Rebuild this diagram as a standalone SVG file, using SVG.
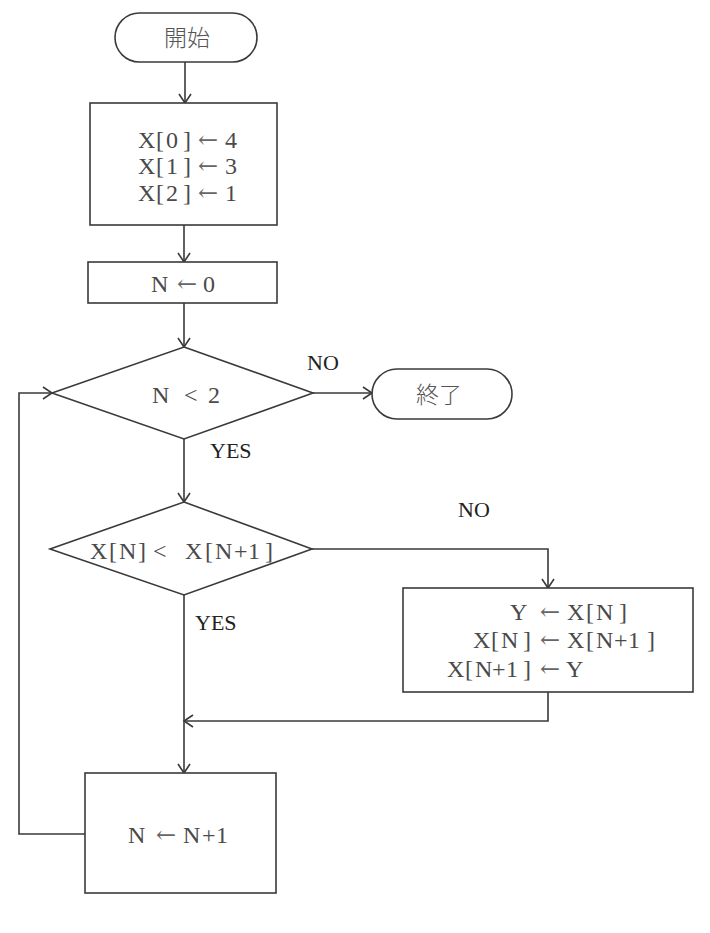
<svg xmlns="http://www.w3.org/2000/svg" width="710" height="933" viewBox="0 0 710 933">
<style>
.shape{fill:#fff;stroke:#3a3a3a;stroke-width:1.6}
.line{fill:none;stroke:#3a3a3a;stroke-width:1.6}
.t{font-family:"Liberation Serif","Times New Roman",serif;font-size:24px;fill:#4a4a4a}
.a{font-family:"DejaVu Serif",serif;font-size:24px;fill:#666}
.lbl{font-family:"Liberation Serif","Times New Roman",serif;font-size:22px;fill:#222}
.jp{font-family:"Noto Sans CJK JP","Noto Sans CJK SC",sans-serif;font-size:23px;fill:#555;font-weight:300}
</style>
<defs>
<marker id="arr" viewBox="-11 -8 13 16" refX="0" refY="0" markerWidth="13" markerHeight="16" markerUnits="userSpaceOnUse" orient="auto">
<path d="M-9,-6 L0,0 L-9,6" fill="none" stroke="#3a3a3a" stroke-width="1.6"/>
</marker>
</defs>
<rect width="710" height="933" fill="#fff"/>
<g id="connectors">
<path class="line" d="M185,62 V103" marker-end="url(#arr)"/>
<path class="line" d="M184,225 V262" marker-end="url(#arr)"/>
<path class="line" d="M184,303 V347" marker-end="url(#arr)"/>
<path class="line" d="M313,393 H372" marker-end="url(#arr)"/>
<path class="line" d="M184,439 V502" marker-end="url(#arr)"/>
<path class="line" d="M312,549 H548 V588" marker-end="url(#arr)"/>
<path class="line" d="M548,692 V721 H184" marker-end="url(#arr)"/>
<path class="line" d="M184,595 V773" marker-end="url(#arr)"/>
<path class="line" d="M85,834 H19 V393 H52" marker-end="url(#arr)"/>
<text class="lbl" x="307" y="370">NO</text>
<text class="lbl" x="210" y="458">YES</text>
<text class="lbl" x="458" y="517">NO</text>
<text class="lbl" x="195" y="630">YES</text>
</g>
<g id="start">
<rect class="shape" x="115" y="13" width="142" height="49" rx="24.5"/>
<text class="jp" x="187" y="46" text-anchor="middle">開始</text>
</g>
<g id="init">
<rect class="shape" x="90" y="103" width="187" height="122"/>
<text class="t" y="148"><tspan x="138">X</tspan><tspan x="156">[</tspan><tspan x="166">0</tspan><tspan x="183">]</tspan><tspan class="a" x="198">←</tspan><tspan x="225">4</tspan></text>
<text class="t" y="174"><tspan x="138">X</tspan><tspan x="156">[</tspan><tspan x="166">1</tspan><tspan x="183">]</tspan><tspan class="a" x="198">←</tspan><tspan x="225">3</tspan></text>
<text class="t" y="201"><tspan x="138">X</tspan><tspan x="156">[</tspan><tspan x="166">2</tspan><tspan x="183">]</tspan><tspan class="a" x="198">←</tspan><tspan x="225">1</tspan></text>
</g>
<g id="setN">
<rect class="shape" x="88" y="262" width="189" height="41"/>
<text class="t" y="292"><tspan x="151">N</tspan><tspan class="a" x="177">←</tspan><tspan x="203">0</tspan></text>
</g>
<g id="cond1">
<polygon class="shape" points="184,347 313,393 184,439 52,393"/>
<text class="t" y="403"><tspan x="152">N</tspan><tspan x="184">&lt;</tspan><tspan x="208">2</tspan></text>
</g>
<g id="end">
<rect class="shape" x="372" y="369" width="140" height="50" rx="25"/>
<text class="jp" x="439" y="403" text-anchor="middle">終了</text>
</g>
<g id="cond2">
<polygon class="shape" points="184,502 312,549 184,595 50,549"/>
<text class="t" y="559"><tspan x="90">X</tspan><tspan x="109">[</tspan><tspan x="119">N</tspan><tspan x="138">]</tspan><tspan x="153">&lt;</tspan><tspan x="185">X</tspan><tspan x="205">[</tspan><tspan x="215">N</tspan><tspan x="234">+</tspan><tspan x="248">1</tspan><tspan x="265">]</tspan></text>
</g>
<g id="swap">
<rect class="shape" x="403" y="588" width="290" height="104"/>
<text class="t" y="620"><tspan x="510">Y</tspan><tspan class="a" x="540">←</tspan><tspan x="567">X</tspan><tspan x="586">[</tspan><tspan x="596">N</tspan><tspan x="619">]</tspan></text>
<text class="t" y="648"><tspan x="473">X</tspan><tspan x="491">[</tspan><tspan x="501">N</tspan><tspan x="523">]</tspan><tspan class="a" x="540">←</tspan><tspan x="567">X</tspan><tspan x="586">[</tspan><tspan x="596">N</tspan><tspan x="614">+</tspan><tspan x="628">1</tspan><tspan x="647">]</tspan></text>
<text class="t" y="677"><tspan x="447">X</tspan><tspan x="465">[</tspan><tspan x="475">N</tspan><tspan x="492">+</tspan><tspan x="506">1</tspan><tspan x="523">]</tspan><tspan class="a" x="540">←</tspan><tspan x="566">Y</tspan></text>
</g>
<g id="incN">
<rect class="shape" x="85" y="773" width="191" height="120"/>
<text class="t" y="843"><tspan x="128">N</tspan><tspan class="a" x="156">←</tspan><tspan x="183">N</tspan><tspan x="202">+</tspan><tspan x="216">1</tspan></text>
</g>
</svg>
